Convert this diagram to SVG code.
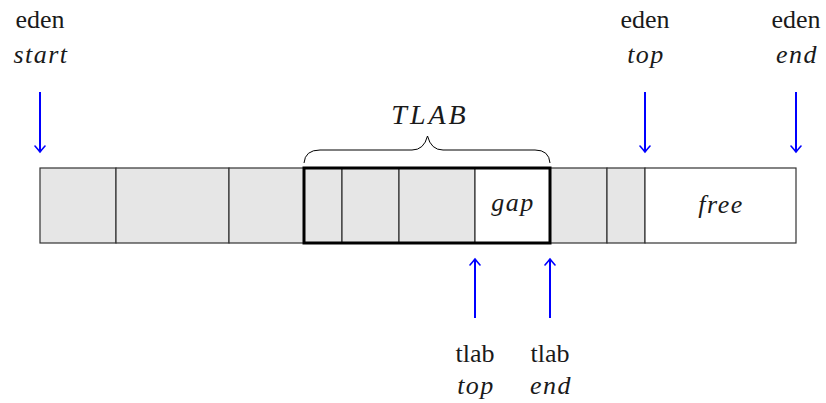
<svg xmlns="http://www.w3.org/2000/svg" width="826" height="403" viewBox="0 0 826 403">
  <style>
    .lbl { font-family: "Liberation Serif", "DejaVu Serif", serif; font-size: 26px; fill: #1a1a1a; text-anchor: middle; }
    .it { font-style: italic; letter-spacing: 1.5px; }
    .big { font-size: 28px; letter-spacing: 3px; }
    .cell { fill: #e6e6e6; stroke: #333333; stroke-width: 1.2; }
    .empty { fill: #ffffff; stroke: #333333; stroke-width: 1.2; }
    .ptr { stroke: #0000ff; stroke-width: 2; fill: none; marker-end: url(#head); }
  </style>
  <defs>
    <marker id="head" markerUnits="userSpaceOnUse" viewBox="-8 -6 10 12" refX="0" refY="0" markerWidth="10" markerHeight="12" orient="auto">
      <path d="M-6,-5 Q-2,-1.5 0,0 Q-2,1.5 -6,5" fill="none" stroke="#0000ff" stroke-width="1.6" stroke-linecap="round"/>
    </marker>
  </defs>

  <!-- eden space cells -->
  <g id="eden">
    <rect class="cell" x="40" y="168" width="76" height="75"/>
    <rect class="cell" x="116" y="168" width="113" height="75"/>
    <rect class="cell" x="229" y="168" width="75" height="75"/>
    <rect class="cell" x="550" y="168" width="57" height="75"/>
    <rect class="cell" x="607" y="168" width="38" height="75"/>
    <rect class="empty" x="645" y="168" width="151" height="75"/>
    <text class="lbl it" x="721" y="213">free</text>
  </g>

  <!-- thread-local allocation buffer -->
  <g id="tlab">
    <rect class="cell" x="304" y="168" width="38" height="75"/>
    <rect class="cell" x="342" y="168" width="57" height="75"/>
    <rect class="cell" x="399" y="168" width="76" height="75"/>
    <rect class="empty" x="475" y="168" width="75" height="75"/>
    <text class="lbl it" x="513" y="211">gap</text>
    <rect x="304" y="168" width="246" height="75" fill="none" stroke="#000" stroke-width="3"/>
    <path d="M304,163 Q305,150 320,150 L412,150 Q424,150 427.5,136 Q431,150 443,150 L535,150 Q549,150 550,163" fill="none" stroke="#000" stroke-width="1"/>
    <text class="lbl it big" x="430" y="124">TLAB</text>
  </g>

  <!-- pointer labels -->
  <g id="eden-start">
    <text class="lbl" x="40" y="28">eden</text>
    <text class="lbl it" x="41" y="63">start</text>
  </g>
  <g id="eden-top">
    <text class="lbl" x="645" y="28">eden</text>
    <text class="lbl it" x="646" y="63">top</text>
  </g>
  <g id="eden-end">
    <text class="lbl" x="796" y="28">eden</text>
    <text class="lbl it" x="797" y="63">end</text>
  </g>
  <g id="tlab-top">
    <text class="lbl" x="475" y="362">tlab</text>
    <text class="lbl it" x="476" y="394">top</text>
  </g>
  <g id="tlab-end">
    <text class="lbl" x="550" y="362">tlab</text>
    <text class="lbl it" x="551" y="394">end</text>
  </g>

  <!-- pointer arrows -->
  <g id="connectors">
    <line class="ptr" x1="40" y1="92" x2="40" y2="152"/>
    <line class="ptr" x1="645" y1="92" x2="645" y2="152"/>
    <line class="ptr" x1="796" y1="92" x2="796" y2="152"/>
    <line class="ptr" x1="475" y1="318" x2="475" y2="259"/>
    <line class="ptr" x1="550" y1="318" x2="550" y2="259"/>
  </g>
</svg>
